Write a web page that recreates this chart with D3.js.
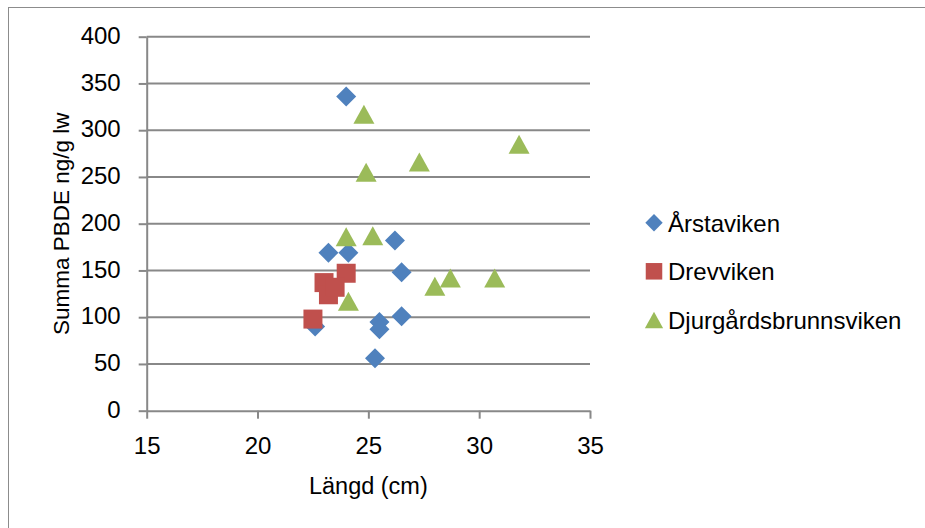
<!DOCTYPE html>
<html>
<head>
<meta charset="utf-8">
<script src="https://cdn.jsdelivr.net/npm/d3@7"></script>
<style>
  body { margin: 0; background: #fff; }
  svg text { font-family: "Liberation Sans", Arial, sans-serif; fill: #000; }
</style>
</head>
<body>
<svg id="chart" width="925" height="528"></svg>
<script>
// series names
const seriesNames = ["Årstaviken", "Drevviken", "Djurgårdsbrunnsviken"]

// Längd (cm) and Summa PBDE (ng/g lw) per series
const arstavikenLength = [24.0, 23.2, 24.1, 26.2, 26.5, 26.5, 25.5, 25.5, 25.3, 22.6]
const arstavikenPbde   = [336, 169, 169, 182, 148, 101, 95, 87, 56, 90]

const drevvikenLength = [24.0, 23.0, 23.2, 23.5, 22.5]
const drevvikenPbde   = [147, 137, 124, 132, 98]

const djurgardLength = [24.0, 25.2, 24.1, 28.0, 28.7, 30.7, 31.8, 27.3, 24.9, 24.8]
const djurgardPbde   = [186, 187, 117, 133, 142, 142, 285, 266, 255, 317]

const xTicks = [15, 20, 25, 30, 35]
const yTicks = [0, 50, 100, 150, 200, 250, 300, 350, 400]

const colors = ["#4F81BD", "#C0504D", "#9BBB59"]
const shapes = ["diamond", "square", "triangle"]

const series = [
    {name: seriesNames[0], xs: arstavikenLength, ys: arstavikenPbde},
    {name: seriesNames[1], xs: drevvikenLength, ys: drevvikenPbde},
    {name: seriesNames[2], xs: djurgardLength, ys: djurgardPbde}
].map((s, i) => ({
    ...s,
    color: colors[i],
    shape: shapes[i],
    points: s.xs.map((x, j) => ({x, y: s.ys[j]}))
}))

// marker path centred on 0,0; k scales the marker
const markerPath = (shape, k) => {
    if (shape === "diamond") {
        let r = 10 * k
        return `M0,${-r}L${r},0L0,${r}L${-r},0Z`
    }
    if (shape === "square") {
        let h = 9.5 * k
        return `M${-h},${-h}H${h}V${h}H${-h}Z`
    }
    let w = 10.5 * k, h = 9.5 * k
    return `M0,${-h}L${w},${h}L${-w},${h}Z`
}

let svg = d3.select("#chart"),
    margin = {top: 36.7, left: 146.7},
    width = 590 - margin.left,
    height = 410.7 - margin.top

// outer chart frame (only top and left edges fall inside the window)
svg.append("rect")
    .attr("x", 8.5).attr("y", 7.5)
    .attr("width", 940).attr("height", 540)
    .attr("fill", "none")
    .attr("stroke", "#8c8c8c")
    .attr("stroke-width", 1)

let g = svg.append("g").attr("transform", "translate(" + margin.left + "," + margin.top + ")")

let x = d3.scaleLinear().domain([15, 35]).range([0, width]),
    y = d3.scaleLinear().domain([0, 400]).range([height, 0])

// horizontal gridlines
g.append("g")
    .selectAll("line")
    .data(yTicks.filter(d => d > 0))
    .enter().append("line")
    .attr("x1", 0).attr("x2", width)
    .attr("y1", d => y(d)).attr("y2", d => y(d))
    .attr("stroke", "#888")
    .attr("stroke-width", 2)

// x axis
let xAxis = g.append("g")
    .attr("transform", "translate(0," + height + ")")
    .call(d3.axisBottom(x).tickValues(xTicks).tickSize(8).tickSizeOuter(0))
xAxis.select(".domain").attr("stroke", "#888").attr("stroke-width", 2)
xAxis.selectAll(".tick line").attr("stroke", "#888").attr("stroke-width", 2)
xAxis.selectAll(".tick text")
    .attr("y", 43).attr("dy", null)
    .style("font-size", "24px")
    .style("font-family", '"Liberation Sans", Arial, sans-serif')

// y axis
let yAxis = g.append("g")
    .call(d3.axisLeft(y).tickValues(yTicks).tickSize(8).tickSizeOuter(0))
yAxis.select(".domain").attr("stroke", "#888").attr("stroke-width", 2)
yAxis.selectAll(".tick line").attr("stroke", "#888").attr("stroke-width", 2)
yAxis.selectAll(".tick text")
    .attr("x", -26).attr("dy", "0.28em")
    .style("font-size", "24px")
    .style("font-family", '"Liberation Sans", Arial, sans-serif')

// axis titles
g.append("text")
    .attr("x", width / 2)
    .attr("y", height + 83)
    .attr("text-anchor", "middle")
    .style("font-size", "23.5px")
    .text("Längd (cm)")

g.append("text")
    .attr("transform", "translate(" + (69 - margin.left) + "," + (height / 2) + ") rotate(-90)")
    .attr("text-anchor", "middle")
    .style("font-size", "22.5px")
    .text("Summa PBDE ng/g lw")

// points
let seriesG = g.selectAll(".series")
    .data(series)
    .enter().append("g")
    .attr("class", "series")

seriesG.selectAll("path")
    .data(d => d.points.map(p => ({...p, shape: d.shape, color: d.color})))
    .enter().append("path")
    .attr("transform", d => "translate(" + x(d.x) + "," + y(d.y) + ")")
    .attr("d", d => markerPath(d.shape, 1))
    .attr("fill", d => d.color)

// legend
let legend = svg.append("g")
    .selectAll(".legend")
    .data(series)
    .enter().append("g")
    .attr("class", "legend")
    .attr("transform", (d, i) => "translate(654," + (222.7 + i * 48.6) + ")")

legend.append("path")
    .attr("d", d => markerPath(d.shape, 0.87))
    .attr("fill", d => d.color)

legend.append("text")
    .attr("x", 14)
    .attr("y", 9)
    .style("font-size", "24px")
    .text(d => d.name)
</script>
</body>
</html>
